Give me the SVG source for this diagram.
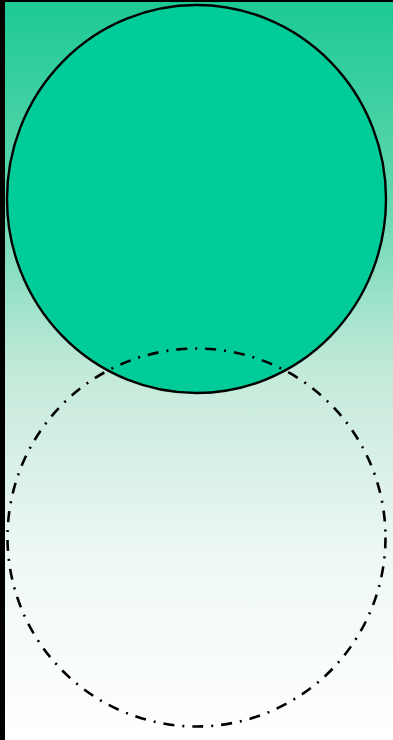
<svg xmlns="http://www.w3.org/2000/svg" width="393" height="740" viewBox="0 0 393 740">
<defs>
<linearGradient id="bg" x1="0" y1="0" x2="0" y2="1">
<stop offset="0" stop-color="#1cc995"/>
<stop offset="0.25" stop-color="#5cd6ad"/>
<stop offset="0.5" stop-color="#c3e9d9"/>
<stop offset="0.75" stop-color="#eef8f4"/>
<stop offset="1" stop-color="#ffffff"/>
</linearGradient>
<style>
.shape{stroke:#000;stroke-width:2.4}
.dash{fill:none;stroke:#000;stroke-width:2.6;stroke-dasharray:11 8 2 8}
</style>
</defs>
<rect x="0" y="0" width="393" height="740" fill="url(#bg)"/>
<rect x="0" y="0" width="393" height="2" fill="#000"/>
<rect x="0" y="0" width="5" height="740" fill="#000"/>
<g id="filled-circle">
<ellipse class="shape" cx="196.5" cy="199" rx="189.5" ry="194" fill="#00cc99"/>
</g>
<g id="dashed-circle">
<circle class="dash" cx="196.5" cy="537.5" r="189"/>
</g>
</svg>
